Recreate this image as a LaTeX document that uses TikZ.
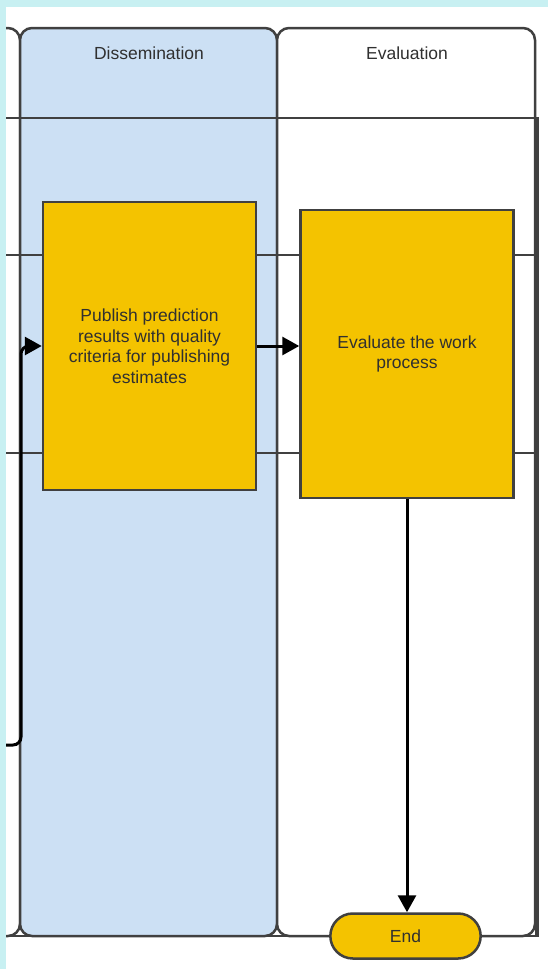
\documentclass[tikz,border=0pt]{standalone}
\usepackage{fontspec}
\setmainfont{Liberation Sans}
\usetikzlibrary{calc,arrows.meta,shapes.misc}

\definecolor{bgcyan}{HTML}{C8F0F2}
\definecolor{laneblue}{HTML}{CCE0F4}
\definecolor{taskgold}{HTML}{F4C300}
\definecolor{edgegray}{HTML}{404040}
\definecolor{textgray}{HTML}{303030}

\tikzset{
  lane/.style={draw=edgegray, line width=2.5pt, rounded corners=12pt},
  task/.style={rectangle, draw=edgegray, line width=2.5pt, fill=taskgold, minimum width=213pt,
    minimum height=288pt, align=center, text=textgray,
    font=\fontsize{17.5}{20.5}\selectfont},
  terminal/.style={rounded rectangle, draw=edgegray, line width=2.5pt, fill=taskgold, minimum width=157pt,
    minimum height=45pt, text=textgray, font=\fontsize{17.5}{20}\selectfont},
  flow/.style={line width=3pt, -{Triangle[length=17pt, width=18pt]}},
  title/.style={text=textgray, font=\fontsize{17.5}{20}\selectfont}
}

\begin{document}
\begin{tikzpicture}[x=1pt, y=-1pt]
  \fill[bgcyan] (0, 0) rectangle (548, 969);
  \useasboundingbox (0, 0) rectangle (548, 969);
  \fill[white] (6, 7) rectangle (548, 969);

  \begin{scope}
    \clip (6, 7) rectangle (548, 969);
% lanes
    \draw[lane, fill=white] (-240, 28) rectangle (20, 936);
    \draw[lane, fill=laneblue] (20, 28) rectangle (277, 936);
    \draw[lane, fill=white] (277, 28) rectangle (535, 936);
    \foreach \y in {255, 453}{
      \draw[edgegray, line width=2.5pt] (6, \y) -- (536, \y);
    }
    \draw[edgegray, line width=2.5pt] (6, 118) -- (537, 118);
    \draw[edgegray, line width=2.5pt] (6, 936) -- (537, 936);
    \draw[edgegray, line width=3.5pt] (537, 117) -- (537, 937);
  \end{scope}

  \draw (149, 53) node[title] (dissem) {Dissemination};
  \draw (407, 53) node[title] (evalt) {Evaluation};

% tasks
  \draw (149.5, 346) node[task] (pubbox) {Publish prediction\\results with quality\\criteria for publishing\\estimates};
  \draw (407, 354) node[task] (evalbox) {Evaluate the work\\process};
  \draw (405.5, 936) node[terminal] (endnode) {End};

  \coordinate (prevout) at (6, 745);
  \draw[flow, rounded corners=8pt] (prevout) -- ++(15, 0) |- (pubbox.west);
  \draw[flow] (pubbox.east) -- (pubbox.east -| evalbox.west);
  \draw[flow] (evalbox.south) -- (evalbox.south |- endnode.north);
\end{tikzpicture}
\end{document}
